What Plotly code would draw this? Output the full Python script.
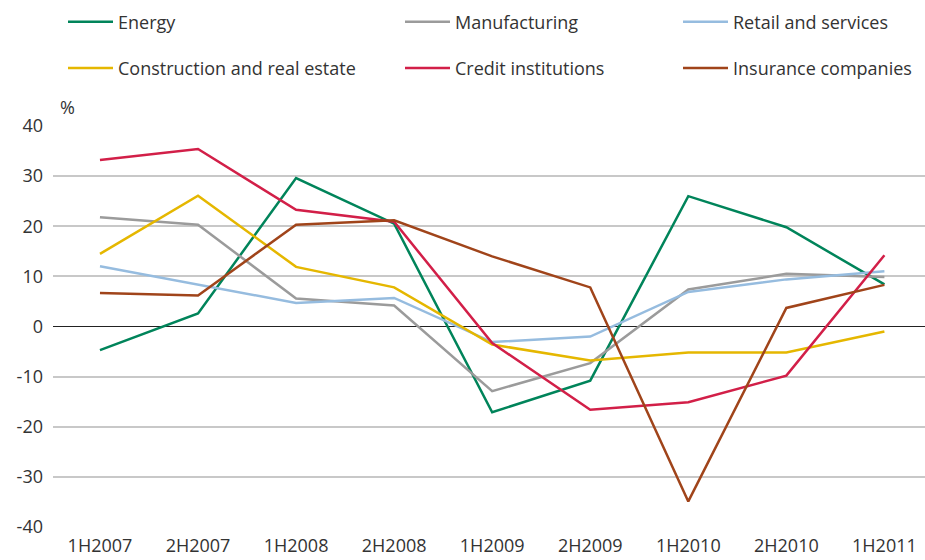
import plotly.graph_objects as go

categories = ["1H2007", "2H2007", "1H2008", "2H2008", "1H2009", "2H2009", "1H2010", "2H2010", "1H2011"]

energy = [-4.7, 2.6, 29.6, 20.5, -17.1, -10.8, 26.0, 19.8, 8.4]
manufacturing = [21.8, 20.3, 5.6, 4.2, -12.9, -7.3, 7.4, 10.5, 9.9]
retail = [12.0, 8.3, 4.7, 5.7, -3.1, -2.0, 6.9, 9.4, 11.0]
construction = [14.5, 26.1, 11.9, 7.8, -3.6, -6.8, -5.2, -5.2, -1.0]
credit = [33.2, 35.4, 23.3, 20.9, -3.3, -16.6, -15.1, -9.8, 14.2]
insurance = [6.7, 6.2, 20.3, 21.2, 14.0, 7.8, -34.9, 3.7, 8.3]

y_ticks = [-40, -30, -20, -10, 0, 10, 20, 30, 40]
y_ticktext = ["-40", "-30", "-20", "-10", "0", "10", "20", "30", "40"]

series = [
    ("Energy", energy, "#00845A", "legend", "g1"),
    ("Manufacturing", manufacturing, "#9B9B9B", "legend2", "g3"),
    ("Retail and services", retail, "#96BCDF", "legend3", "g5"),
    ("Construction and real estate", construction, "#E5B700", "legend", "g2"),
    ("Credit institutions", credit, "#D21F48", "legend2", "g4"),
    ("Insurance companies", insurance, "#A0441A", "legend3", "g6"),
]

FONT = "Open Sans"
FS = 18
fig = go.Figure()
for name, vals, color, leg, grp in series:
    fig.add_trace(go.Scatter(
        x=list(range(len(categories))), y=vals, name=name, mode="lines",
        line=dict(color=color, width=2.5), legend=leg, legendgroup=grp,
    ))

leg_common = dict(
    orientation="v", yref="container", y=1.0 - 3.5 / 560, yanchor="top", xref="container",
    xanchor="left", font=dict(family=FONT, size=FS, color="#333333"),
    bgcolor="rgba(0,0,0,0)", itemwidth=45, tracegroupgap=20, traceorder="grouped",
)

fig.update_layout(
    width=925, height=560,
    margin=dict(l=53, r=0, t=125.5, b=33.3, autoexpand=False),
    plot_bgcolor="white", paper_bgcolor="white",
    font=dict(family=FONT, size=FS, color="#333333"),
    showlegend=True,
    legend=dict(x=63 / 925, **leg_common),
    legend2=dict(x=400 / 925, **leg_common),
    legend3=dict(x=678 / 925, **leg_common),
    xaxis=dict(
        range=[-0.479, 8.414], tickmode="array",
        tickvals=list(range(len(categories))), ticktext=categories,
        showgrid=False, zeroline=False, showline=False, ticks="",
        ticklabelstandoff=6, tickfont=dict(family=FONT, size=FS, color="#333333"),
    ),
    yaxis=dict(
        range=[-40, 40], tickmode="array", tickvals=y_ticks, ticktext=y_ticktext,
        showgrid=True, gridcolor="#C8C8C8", gridwidth=1.5,
        zeroline=True, zerolinecolor="#222222", zerolinewidth=1.2,
        showline=False, ticks="", ticklabelstandoff=9,
        tickfont=dict(family=FONT, size=FS, color="#333333"),
    ),
    annotations=[dict(
        text="%", xref="paper", yref="paper", x=(67 - 53) / 872, y=1.0,
        xanchor="center", yanchor="bottom", yshift=5, showarrow=False,
        font=dict(family=FONT, size=FS, color="#333333"),
    )],
)

fig.write_html("out.html")
